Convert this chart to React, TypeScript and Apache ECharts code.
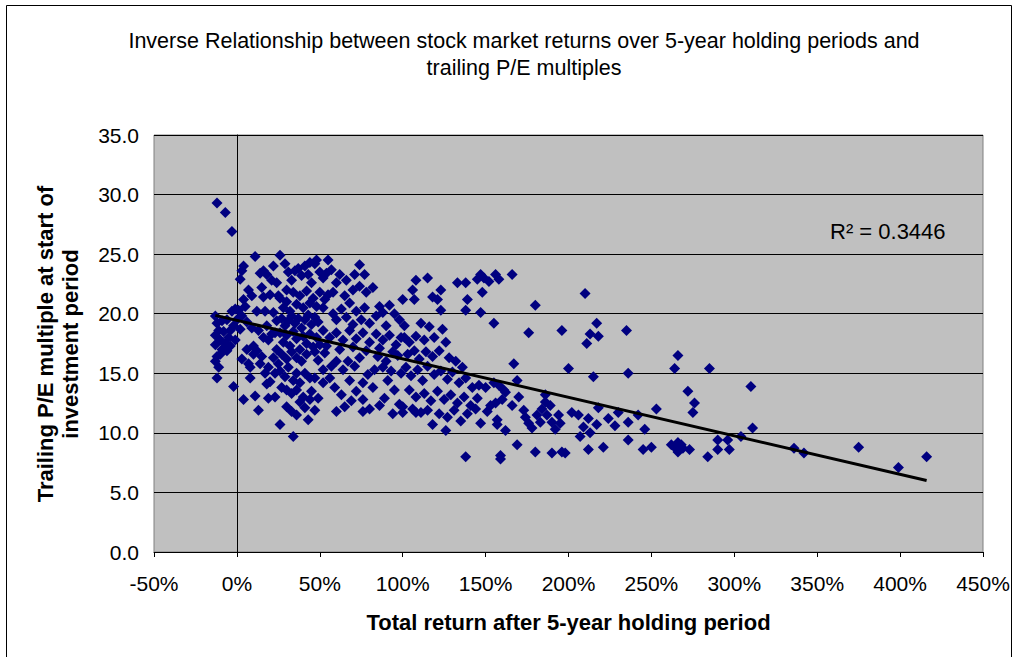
import React, { useEffect, useRef } from "react";
import * as echarts from "echarts";

const titleLines = [
  "Inverse Relationship between stock market returns over 5-year holding periods and",
  "trailing P/E multiples",
];
const xAxisTitle = "Total return after 5-year holding period";
const yAxisTitleLines = ["Trailing P/E multiple at start of", "investment period"];
const rSquaredLabel = "R\u00B2 = 0.3446";

const xMinTick = -50;
const xMaxTick = 450;
const xStep = 50;
const yMinTick = 0;
const yMaxTick = 35;
const yStep = 5;

// Linear trendline (P/E = intercept + slope * return%)
const trendIntercept = 19.44;
const trendSlope = -0.0323;

// [total return %, trailing P/E]
const negativeReturns: [number, number][] = [
  [-12, 29.3], [-7, 28.5], [-3, 26.9], [-13, 19.8], [-12, 19.2], [-11, 18.6], [-13, 18.2],
  [-10, 17.8], [-13, 17.4], [-9, 17.0], [-12, 16.4], [-13, 16.0], [-11, 15.5], [-12, 14.6],
  [-8, 18.5], [-5, 18.0], [-7, 17.5], [-4, 17.3], [-2, 13.9], [-3, 20.2], [-1, 20.4],
  [-6, 19.5], [-2, 19.0], [-9, 19.4], [-4, 18.6], [-1, 17.8], [-10, 16.6], [-6, 16.9],
];

const returns0to25: [number, number][] = [
  [3, 23.6], [2, 22.9], [4, 24.0], [1, 20.3], [3, 19.8], [5, 20.6], [0, 19.5], [6, 19.3],
  [2, 18.7], [4, 21.2], [7, 22.0], [11, 24.8], [9, 21.5], [12, 20.2], [13, 18.6], [10, 17.3],
  [14, 23.4], [15, 22.2], [16, 21.4], [17, 20.2], [18, 19.0], [12, 16.9], [15, 16.4], [19, 17.8],
  [20, 21.6], [21, 22.8], [22, 20.1], [23, 18.4], [24, 17.0], [8, 15.5], [8, 14.6], [19, 15.5],
  [23, 15.0], [4, 12.8], [11, 13.1], [13, 11.9], [19, 12.9], [23, 13.0], [16, 23.6], [18, 23.3],
  [22, 24.0], [10, 16.6], [14, 15.8], [17, 15.0], [20, 14.3], [22, 16.3], [24, 19.4], [21, 18.3],
  [6, 17.0], [3, 16.2], [9, 18.8], [16, 18.0], [25, 21.5], [24, 22.6], [7, 15.8], [25, 15.8],
  [18, 14.1],
];

const returns25to50: [number, number][] = [
  [26, 24.9], [29, 24.2], [31, 23.5], [33, 22.8], [35, 23.6], [37, 23.8], [39, 23.2], [41, 24.0],
  [43, 23.3], [45, 22.6], [47, 24.2], [48, 24.5], [50, 23.5], [44, 24.3], [30, 22.0],
  [26, 21.3], [28, 20.5], [30, 21.0], [32, 20.2], [34, 21.8], [36, 20.8], [38, 21.5], [40, 20.5],
  [42, 21.9], [44, 20.9], [46, 21.3], [48, 20.6], [50, 21.8], [27, 19.6], [29, 19.0], [31, 19.4],
  [33, 19.8], [35, 19.2], [37, 19.6], [39, 18.8], [41, 19.5], [43, 19.9], [45, 19.1], [47, 19.7],
  [49, 19.3], [26, 18.4], [28, 17.6], [30, 18.2], [32, 17.3], [34, 18.5], [36, 17.9], [38, 17.0],
  [40, 18.1], [42, 17.5], [44, 18.3], [46, 17.2], [48, 18.0], [50, 17.4], [27, 16.6], [30, 16.2],
  [33, 16.8], [36, 16.3], [39, 16.0], [42, 16.6], [47, 16.8], [49, 16.1], [26, 15.2], [29, 14.7],
  [31, 15.5], [34, 14.4], [36, 15.0], [38, 14.2], [41, 15.0], [44, 14.6], [47, 14.6], [30, 13.6],
  [33, 13.3], [36, 13.6], [40, 13.0], [44, 12.8], [49, 12.9], [47, 11.9], [41, 12.1], [43, 11.1],
  [33, 11.8], [30, 12.2], [36, 11.5], [34, 9.7], [27, 13.8], [26, 10.7], [38, 12.6], [45, 13.5],
];

const returns50to100: [number, number][] = [
  [55, 24.5], [54, 23.4], [60, 22.6], [57, 23.7], [52, 23.0], [62, 23.3], [66, 22.8], [71, 23.3],
  [74, 24.1], [77, 23.3], [74, 22.3], [82, 22.2], [78, 21.8], [70, 22.0], [65, 21.5], [58, 21.8],
  [53, 21.2], [55, 21.6], [68, 20.9], [77, 20.5], [86, 20.6], [92, 20.7], [88, 20.1], [80, 19.2],
  [72, 20.2], [63, 20.4], [58, 20.0], [52, 20.5], [60, 19.5], [66, 19.7], [70, 19.1], [75, 19.5],
  [84, 19.8], [95, 20.0], [90, 19.0], [98, 19.5], [52, 18.6], [56, 18.0], [60, 18.4], [64, 17.8],
  [68, 18.6], [72, 17.9], [76, 18.4], [80, 17.6], [84, 18.3], [88, 17.8], [92, 18.2], [96, 17.4],
  [99, 18.0], [54, 17.3], [62, 17.0], [70, 17.2], [78, 16.9], [86, 17.1], [94, 16.8], [53, 16.7],
  [60, 16.0], [67, 16.0], [74, 16.3], [85, 16.4], [90, 16.0], [97, 16.5], [57, 15.6], [64, 15.3],
  [71, 15.6], [79, 14.9], [83, 15.3], [88, 15.5], [93, 15.2], [99, 15.0], [52, 15.3], [52, 14.2],
  [59, 13.8], [63, 13.2], [65, 12.2], [68, 14.4], [76, 14.2], [76, 12.8], [76, 11.8], [89, 12.9],
  [91, 14.4], [56, 14.6], [72, 13.5], [82, 13.8], [86, 12.3], [95, 13.6], [98, 12.4], [80, 12.0],
  [60, 11.8], [69, 12.7], [94, 11.6],
];

const returns100to150: [number, number][] = [
  [115, 23.0], [108, 22.8], [106, 22.0], [107, 21.2], [100, 21.2], [123, 22.0], [118, 21.4],
  [121, 21.2], [123, 20.3], [133, 22.6], [138, 22.6], [139, 21.2], [138, 20.3], [147, 23.3],
  [148, 21.8], [147, 20.1], [145, 22.9], [149, 23.0], [101, 18.0], [104, 17.6], [108, 18.1],
  [113, 17.8], [119, 18.0], [126, 17.6], [103, 16.6], [107, 16.9], [110, 16.2], [114, 16.8],
  [118, 16.4], [122, 16.9], [128, 16.3], [132, 16.0], [136, 15.5], [101, 19.0], [111, 19.2],
  [116, 18.9], [124, 18.7], [102, 15.5], [105, 14.8], [109, 15.3], [112, 14.4], [115, 15.6],
  [119, 14.9], [123, 15.2], [127, 14.5], [130, 15.1], [134, 14.2], [138, 14.6], [142, 13.8],
  [146, 14.0], [104, 13.6], [108, 13.0], [113, 13.3], [117, 12.7], [121, 13.5], [125, 12.8],
  [129, 13.2], [133, 12.5], [137, 13.0], [141, 12.3], [145, 12.9], [100, 12.2], [106, 12.0],
  [111, 11.7], [100, 11.7], [108, 11.7], [115, 11.9], [122, 11.6], [127, 11.3], [131, 11.9],
  [139, 11.6], [144, 12.0], [135, 11.0], [118, 10.7], [147, 10.8], [138, 8.0], [126, 10.2],
];

const returns150to200: [number, number][] = [
  [156, 23.3], [152, 22.7], [158, 22.9], [166, 23.3], [155, 19.2], [180, 20.7], [176, 18.4],
  [196, 18.6], [167, 15.8], [169, 14.4], [150, 13.8], [162, 13.4], [156, 12.5], [166, 12.3],
  [151, 11.8], [157, 11.1], [157, 10.7], [162, 10.2], [173, 11.9], [174, 11.3], [178, 10.4],
  [181, 11.5], [186, 12.6], [187, 11.5], [186, 13.2], [190, 10.9], [194, 11.5], [195, 10.8],
  [169, 9.0], [159, 8.1], [159, 7.8], [180, 8.4], [190, 8.3], [196, 8.4], [198, 8.3],
  [184, 12.0], [189, 12.3], [183, 10.9], [192, 10.3], [176, 10.8], [155, 14.2], [160, 12.8],
  [153, 12.3], [170, 13.0], [161, 13.6], [158, 14.0],
];

const returns200to300: [number, number][] = [
  [200, 15.4], [202, 11.7], [210, 21.7], [217, 19.2], [213, 18.3], [218, 18.1], [211, 17.5],
  [235, 18.6], [215, 14.7], [236, 15.0], [266, 16.5], [264, 15.4], [272, 13.5], [276, 12.5],
  [275, 11.7], [253, 12.0], [218, 12.1], [206, 11.5], [212, 11.2], [209, 10.5], [207, 9.7],
  [213, 10.0], [217, 10.7], [224, 11.2], [228, 10.6], [230, 11.7], [236, 10.9], [242, 11.5],
  [246, 10.3], [212, 8.6], [221, 8.8], [236, 9.4], [245, 8.6], [250, 8.8], [262, 9.0],
  [266, 8.4], [269, 8.7], [266, 9.2], [264, 8.8], [268, 9.0], [285, 15.4], [290, 9.4],
  [296, 9.4], [297, 8.6], [290, 8.6], [284, 8.0], [273, 8.6],
];

const returnsAbove300: [number, number][] = [
  [310, 13.9], [311, 10.4], [304, 9.7], [336, 8.7], [342, 8.3], [375, 8.8], [399, 7.1], [416, 8.0],
];

const FONT = '"Liberation Sans", Arial, sans-serif';

export default function App() {
  const ref = useRef<HTMLDivElement>(null);
  useEffect(() => {
    if (!ref.current) return;
    const chart = echarts.init(ref.current, null, { renderer: "svg" });
    const points = [
      ...negativeReturns,
      ...returns0to25,
      ...returns25to50,
      ...returns50to100,
      ...returns100to150,
      ...returns150to200,
      ...returns200to300,
      ...returnsAbove300,
    ];
    const xs = points.map((p) => p[0]);
    const x0 = Math.min(...xs);
    const x1 = Math.max(...xs);
    const trend = [
      [x0, trendIntercept + trendSlope * x0],
      [x1, trendIntercept + trendSlope * x1],
    ];
    chart.setOption({
      animation: false,
      backgroundColor: "#ffffff",
      title: {
        text: titleLines.join("\n"),
        left: 519,
        textAlign: "center",
        top: 22,
        textStyle: {
          fontFamily: FONT,
          fontSize: 21.5,
          fontWeight: "normal",
          color: "#000",
          lineHeight: 27,
        },
      },
      grid: {
        left: 154,
        top: 135,
        width: 829,
        height: 417,
        show: true,
        backgroundColor: "#C0C0C0",
        borderColor: "#808080",
        borderWidth: 1,
      },
      xAxis: {
        type: "value",
        min: xMinTick,
        max: xMaxTick,
        interval: xStep,
        axisLine: { onZero: true, lineStyle: { color: "#000", width: 1 } },
        axisTick: { show: true, length: 5, lineStyle: { color: "#000" } },
        axisLabel: {
          formatter: (v: number) => `${v}%`,
          color: "#000",
          fontSize: 21,
          fontFamily: FONT,
          margin: 21,
        },
        splitLine: { show: false },
        name: xAxisTitle,
        nameLocation: "middle",
        nameGap: 59,
        nameTextStyle: { fontFamily: FONT, fontSize: 22, fontWeight: "bold", color: "#000" },
      },
      yAxis: [
        {
          type: "value",
          min: yMinTick,
          max: yMaxTick,
          interval: yStep,
          position: "left",
          axisLine: { show: false, onZero: false },
          axisTick: { show: false },
          axisLabel: {
            formatter: (v: number) => v.toFixed(1),
            color: "#000",
            fontSize: 21,
            fontFamily: FONT,
            margin: 15,
          },
          splitLine: { show: true, lineStyle: { color: "#000", width: 1 } },
        },
        {
          type: "value",
          min: yMinTick,
          max: yMaxTick,
          interval: yStep,
          position: "left",
          axisLine: { show: true, onZero: true, lineStyle: { color: "#000", width: 1 } },
          axisTick: { show: true, length: 5, lineStyle: { color: "#000" } },
          axisLabel: { show: false },
          splitLine: { show: false },
        },
      ],
      series: [
        {
          type: "scatter",
          yAxisIndex: 0,
          data: points,
          symbol: "diamond",
          symbolSize: 11,
          itemStyle: { color: "#000080", opacity: 1 },
        },
        {
          type: "line",
          yAxisIndex: 0,
          data: trend,
          symbol: "none",
          lineStyle: { color: "#000", width: 3 },
        },
      ],
      graphic: [
        {
          type: "rect",
          shape: { x: 6.5, y: 5.5, width: 1005, height: 700 },
          style: { fill: "none", stroke: "#000", lineWidth: 1 },
          silent: true,
        },
        {
          type: "text",
          x: 57.5,
          y: 344,
          rotation: Math.PI / 2,
          style: {
            text: yAxisTitleLines.join("\n"),
            align: "center",
            verticalAlign: "middle",
            fontFamily: FONT,
            fontSize: 22,
            fontWeight: "bold",
            lineHeight: 25,
            fill: "#000",
          },
        },
        {
          type: "text",
          x: 830,
          y: 231,
          style: {
            text: rSquaredLabel,
            align: "left",
            verticalAlign: "middle",
            fontFamily: FONT,
            fontSize: 22,
            fill: "#000",
          },
        },
      ],
    });
    return () => chart.dispose();
  }, []);
  return (
    <div
      ref={ref}
      style={{ position: "fixed", left: 0, top: 0, width: 1018, height: 657 }}
    />
  );
}
